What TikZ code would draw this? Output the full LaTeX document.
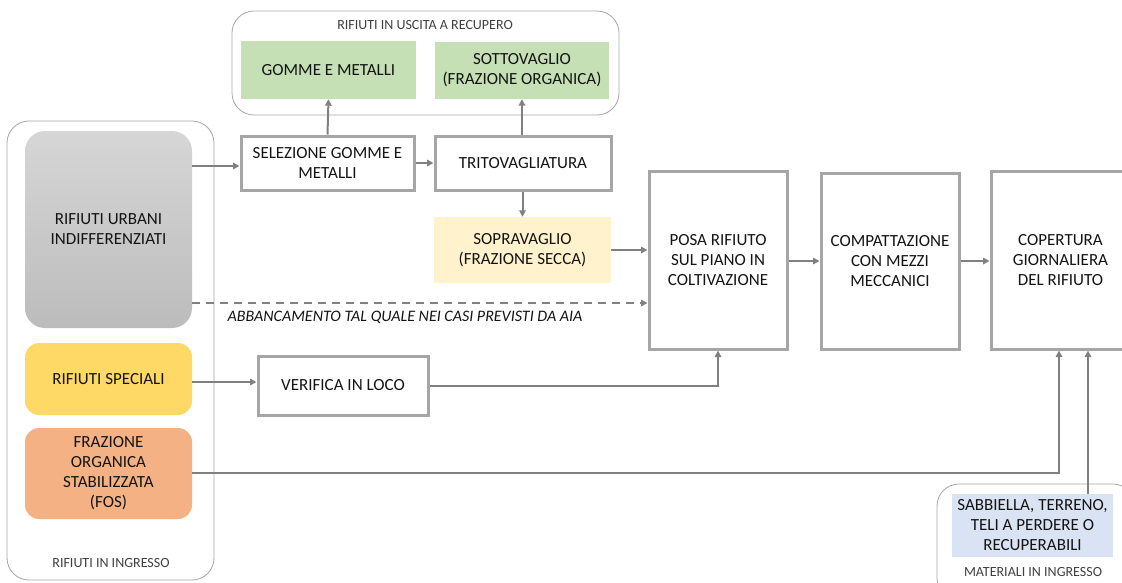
\documentclass[tikz,border=0pt]{standalone}
\usepackage{fontspec}
\setmainfont{Carlito}
\usetikzlibrary{arrows.meta}
\definecolor{boxline}{HTML}{A6A6A6}
\definecolor{arrowc}{HTML}{808080}
\definecolor{grpline}{HTML}{A6A6A6}
\definecolor{txt}{HTML}{141414}
\definecolor{lbl}{HTML}{404040}
\definecolor{green1}{HTML}{C5E0B4}
\definecolor{yel1}{HTML}{FFF2CC}
\definecolor{yel2}{HTML}{FFD966}
\definecolor{ora}{HTML}{F4B183}
\definecolor{blu}{HTML}{DAE3F3}
\definecolor{greyT}{HTML}{D6D6D6}
\definecolor{greyB}{HTML}{BCBCBC}
\tikzset{
  x=1pt, y=-1pt,
  mainfont/.style={font=\fontsize{17}{20}\selectfont, text=txt, align=center},
  procbox/.style={mainfont, draw=boxline, line width=3pt, fill=white, inner sep=0pt},
  fillbox/.style={mainfont, inner sep=0pt},
  inbox/.style={mainfont, rounded corners=14pt, inner sep=0pt},
  grp/.style={draw=grpline, line width=0.8pt, rounded corners=22pt},
  grplabel/.style={font=\fontsize{14}{16}\selectfont, text=lbl},
  conn/.style={draw=arrowc, line width=2pt, -{Triangle[length=6.5pt,width=6.5pt]}},
}
\begin{document}
\begin{tikzpicture}
\useasboundingbox (0,0) rectangle (1122,582);
\clip (0,0) rectangle (1122,582);
% groups
\draw[grp] (232,11) rectangle (619,115);
\node[grplabel] (lblout) at (425,25) {RIFIUTI IN USCITA A RECUPERO};
\draw[grp] (7,121) rectangle (214,580);
\node[grplabel] (lblin) at (111,563) {RIFIUTI IN INGRESSO};
\draw[grp] (937,484) rectangle (1135,600);
\node[grplabel] (lblmat) at (1033,572) {MATERIALI IN INGRESSO};
% output boxes
\node[fillbox, fill=green1, minimum width=175pt, minimum height=58pt] (gomme) at (328.5,70) {GOMME E METALLI};
\node[fillbox, fill=green1, minimum width=174pt, minimum height=57pt] (sotto) at (522,70.5) {SOTTOVAGLIO\\(FRAZIONE ORGANICA)};
% input boxes
\node[inbox, rounded corners=20pt, top color=greyT, bottom color=greyB, minimum width=167pt, minimum height=197pt] (ru) at (108.5,229.5) {RIFIUTI URBANI\\INDIFFERENZIATI};
\node[inbox, fill=yel2, minimum width=167pt, minimum height=72pt] (rs) at (108.5,379) {RIFIUTI SPECIALI};
\node[inbox, fill=ora, minimum width=167pt, minimum height=91pt] (fos) at (108.5,473.5) {FRAZIONE\\ORGANICA\\STABILIZZATA\\(FOS)};
% process boxes
\node[procbox, minimum width=173pt, minimum height=54pt] (sel) at (327.5,163) {SELEZIONE GOMME E\\METALLI};
\node[procbox, minimum width=176pt, minimum height=54pt] (trito) at (523,163) {TRITOVAGLIATURA};
\node[fillbox, fill=yel1, minimum width=177pt, minimum height=66pt] (sopra) at (522.5,250) {SOPRAVAGLIO\\(FRAZIONE SECCA)};
\node[procbox, minimum width=138pt, minimum height=178pt] (posa) at (718,260) {POSA RIFIUTO\\SUL PIANO IN\\COLTIVAZIONE};
\node[procbox, minimum width=138pt, minimum height=176pt] (comp) at (890,261) {COMPATTAZIONE\\CON MEZZI\\MECCANICI};
\node[procbox, minimum width=139pt, minimum height=178pt] (cop) at (1060.5,260) {COPERTURA\\GIORNALIERA\\DEL RIFIUTO};
\node[procbox, minimum width=170pt, minimum height=59pt] (ver) at (343,385.5) {VERIFICA IN LOCO};
\node[fillbox, fill=blu, minimum width=161pt, minimum height=63pt] (sab) at (1032.5,525.5) {SABBIELLA, TERRENO,\\TELI A PERDERE O\\RECUPERABILI};
% connectors
\draw[conn] (ru.east |- 0,166) -- (sel.west |- 0,166);
\draw[conn] (sel) -- (trito);
\draw[conn] (sel.north) -- (gomme.south);
\draw[conn] (trito.north -| sotto.south) -- (sotto.south);
\draw[conn] (trito.south -| sopra.north) -- (sopra.north);
\draw[conn] (sopra.east) -- (posa.west |- sopra.east);
\draw[conn, dashed, dash pattern=on 8pt off 6pt] (ru.east |- 0,303) -- (posa.west |- 0,303);
\node[font=\fontsize{16}{19}\selectfont\itshape, text=txt] (abb) at (405,317) {ABBANCAMENTO TAL QUALE NEI CASI PREVISTI DA AIA};
\draw[conn] (rs.east |- 0,382) -- (ver.west |- 0,382);
\draw[conn] (ver.east) -| (posa.south);
\draw[conn] (posa.east |- 0,261) -- (comp.west |- 0,261);
\draw[conn] (comp.east |- 0,261) -- (cop.west |- 0,261);
\coordinate (fosbend) at (1059,473);
\draw[conn] (fos.east |- fosbend) -- (fosbend) -- (fosbend |- cop.south);
\draw[conn] (sab.north -| 1088,0) -- (cop.south -| 1088,0);
\end{tikzpicture}
\end{document}
